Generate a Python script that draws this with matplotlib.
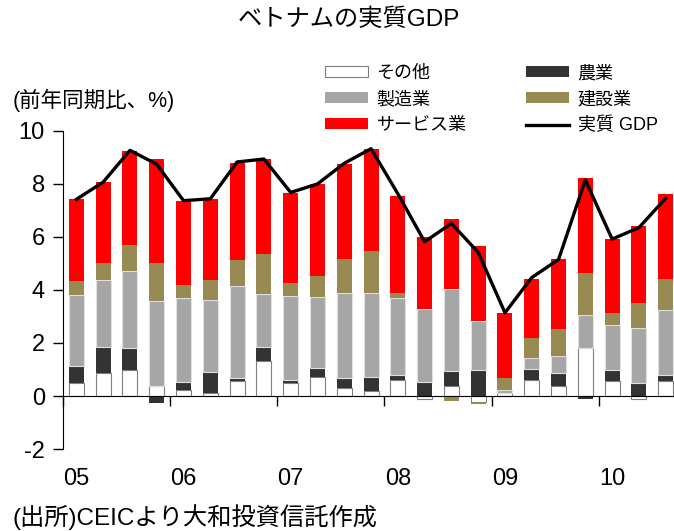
import numpy as np
import matplotlib
matplotlib.use("Agg")
import matplotlib.pyplot as plt
from matplotlib.patches import Patch
from matplotlib.lines import Line2D

plt.rcParams['font.family'] = ['Liberation Sans', 'Noto Sans CJK JP']
plt.rcParams['axes.unicode_minus'] = False

# 2005Q1 - 2010Q3 (前年同期比寄与度, %)
years = ['05', '06', '07', '08', '09', '10']
other = [0.49, 0.87, 0.99, 0.38, 0.24, 0.11, 0.55, 1.32, 0.49, 0.71, 0.30, 0.18,
         0.60, -0.12, 0.37, -0.23, 0.12, 0.60, 0.38, 1.81, 0.55, -0.12, 0.55]
agri = [0.63, 0.99, 0.81, -0.26, 0.30, 0.81, 0.13, 0.54, 0.10, 0.35, 0.38, 0.55,
        0.21, 0.54, 0.57, 0.99, 0.00, 0.40, 0.49, -0.10, 0.44, 0.49, 0.26]
manu = [2.68, 2.51, 2.91, 3.20, 3.16, 2.72, 3.46, 1.98, 3.18, 2.67, 3.20, 3.15,
        2.89, 2.73, 3.08, 1.83, 0.12, 0.44, 0.63, 1.25, 1.69, 2.07, 2.45]
constr = [0.53, 0.64, 0.98, 1.43, 0.49, 0.74, 0.99, 1.51, 0.49, 0.80, 1.28, 1.59,
          0.18, 0.00, -0.20, -0.06, 0.44, 0.74, 1.02, 1.57, 0.46, 0.94, 1.15]
serv = [3.10, 3.06, 3.55, 3.93, 3.17, 3.05, 3.67, 3.59, 3.40, 3.47, 3.61, 3.85,
        3.66, 2.71, 2.66, 2.83, 2.44, 2.23, 2.64, 3.59, 2.78, 2.91, 3.21]
gdp = [7.42, 8.07, 9.27, 8.74, 7.37, 7.44, 8.83, 8.94, 7.68, 8.00, 8.78, 9.33,
       7.63, 5.82, 6.51, 5.42, 3.14, 4.47, 5.15, 8.15, 5.92, 6.35, 7.46]

fig = plt.figure(figsize=(6.74, 5.31), dpi=100)
ax = fig.add_axes([0.0935, 0.1544, 0.9065, 0.599])

x = np.arange(len(gdp))
series = [
    (other, 'その他', 'white', '#7f7f7f'),
    (agri, '農業', '#333333', 'none'),
    (manu, '製造業', '#a6a6a6', '#e0e0e0'),
    (constr, '建設業', '#978b53', 'none'),
    (serv, 'サービス業', '#ff0000', 'none'),
]
pos = np.zeros(len(x))
neg = np.zeros(len(x))
for vals, name, fc, ec in series:
    v = np.array(vals)
    bottom = np.where(v >= 0, pos, neg)
    ax.bar(x, v, 0.56, bottom=bottom, color=fc, edgecolor=ec, linewidth=0.8)
    pos = pos + np.where(v >= 0, v, 0)
    neg = neg + np.where(v < 0, v, 0)

ax.plot(x, gdp, color='black', linewidth=2.4, zorder=5)

ax.set_xlim(-0.5, 22.31)
ax.set_ylim(-2, 10)
ax.spines['top'].set_visible(False)
ax.spines['right'].set_visible(False)
ax.spines['left'].set_bounds(-2, 10)
ax.spines['bottom'].set_position(('data', 0))
ax.set_yticks(np.arange(-2, 11, 2))
ax.tick_params(axis='y', labelsize=17, length=7, width=1, direction='out', pad=6)
ax.set_xticks(np.arange(-0.5, len(x), 4))
ax.tick_params(axis='x', length=7, width=1, direction='out', labelbottom=False)
for i, yr in enumerate(years):
    ax.text(i * 4, -0.095, yr, transform=ax.get_xaxis_transform(),
            ha='center', va='center', fontsize=17)

fig.text(349 / 674, 1 - 20 / 531, 'ベトナムの実質GDP', ha='center', va='center', fontsize=17.5)
fig.text(13 / 674, 1 - 100 / 531, '(前年同期比、%)', ha='left', va='center', fontsize=15.5)
fig.text(13 / 674, 1 - 517 / 531, '(出所)CEICより大和投資信託作成', ha='left', va='center', fontsize=17.5)

handles = [
    Patch(facecolor='white', edgecolor='#7f7f7f', linewidth=0.8, label='その他'),
    Patch(facecolor='#a6a6a6', label='製造業'),
    Patch(facecolor='#ff0000', label='サービス業'),
    Patch(facecolor='#333333', label='農業'),
    Patch(facecolor='#978b53', label='建設業'),
    Line2D([0], [0], color='black', linewidth=2.4, label='実質 GDP'),
]
fig.legend(handles=handles, ncol=2, loc='upper left', bbox_to_anchor=(325 / 674, 1 - 65 / 531),
           frameon=False, fontsize=13, handlelength=2.4, handleheight=0.5, handletextpad=0.45,
           columnspacing=3.3, labelspacing=0.5, borderpad=0, borderaxespad=0)

fig.savefig('out.png', dpi=100)
